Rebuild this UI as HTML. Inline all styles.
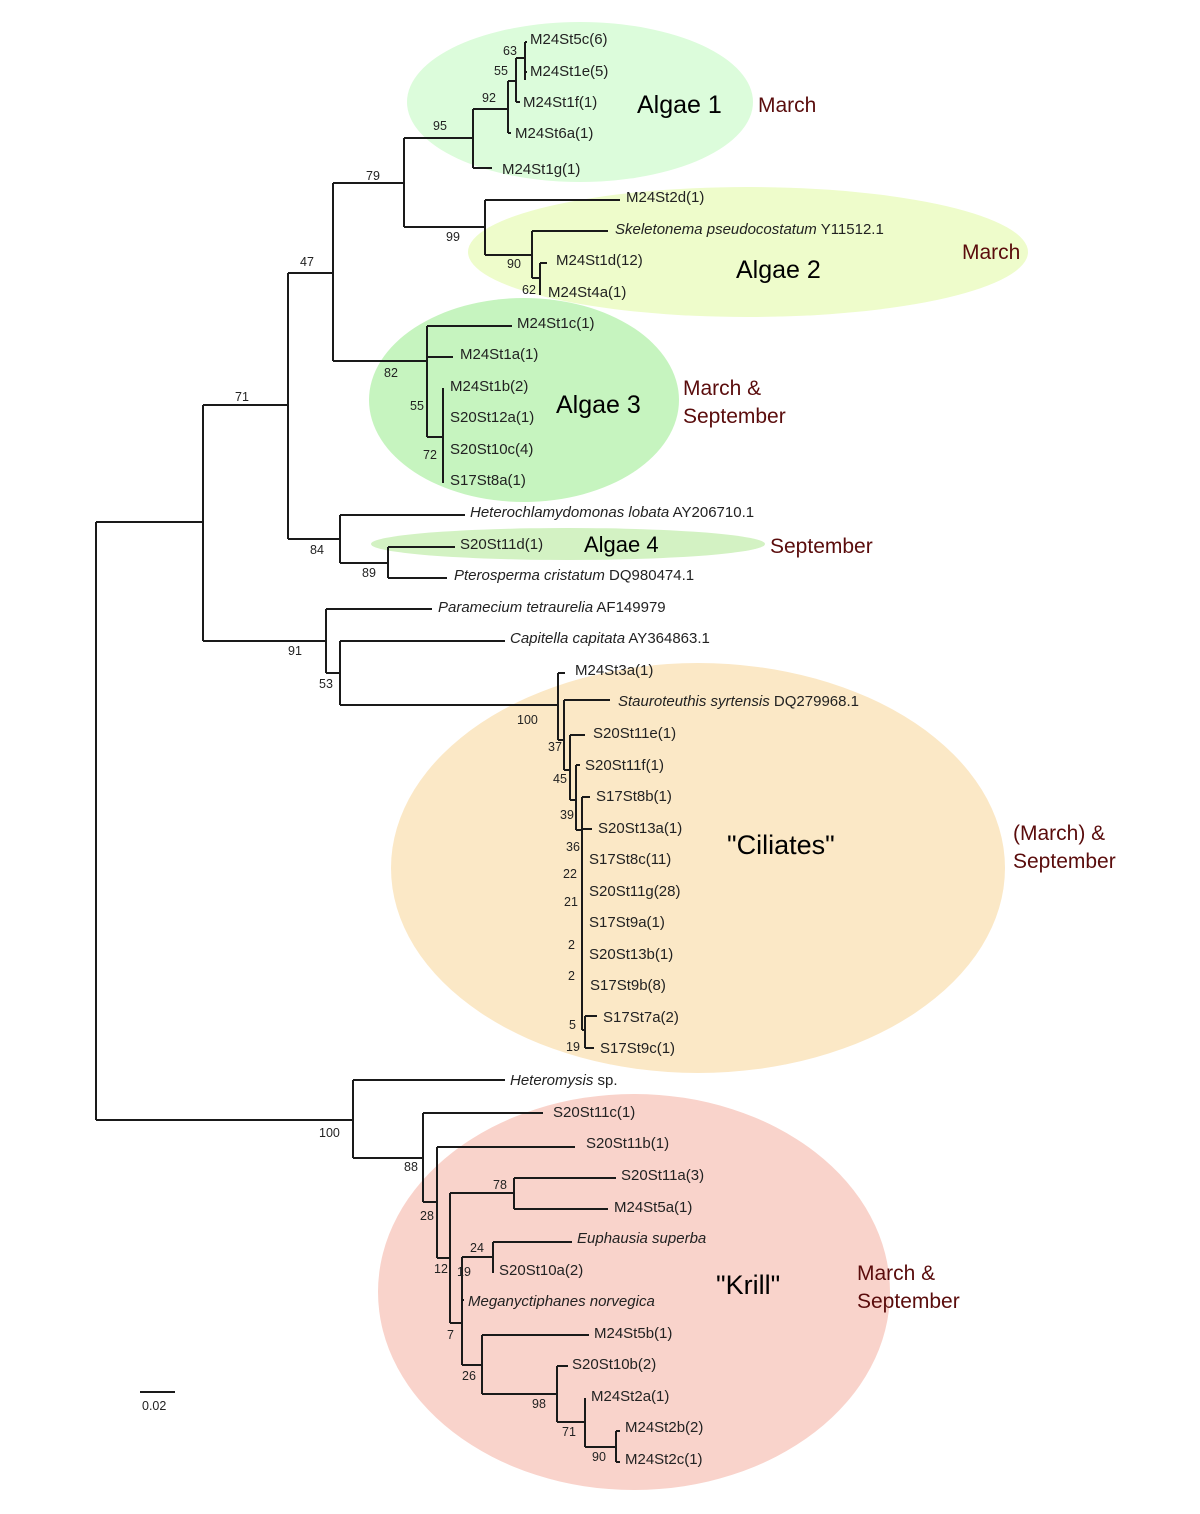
<!DOCTYPE html>
<html><head><meta charset="utf-8"><style>
html,body{margin:0;padding:0;background:#fff}
svg{display:block}
text{font-family:"Liberation Sans",sans-serif;fill:#222}
.l{font-size:15px}
.b{font-size:12.5px}
.g{font-size:25px;fill:#000}
.m{font-size:21px;fill:#5a0c0c}
</style></head><body>
<svg width="1200" height="1514" viewBox="0 0 1200 1514" xmlns="http://www.w3.org/2000/svg">
<ellipse cx="580" cy="102" rx="173" ry="80" fill="#dcfcdb"/>
<ellipse cx="748" cy="252" rx="280" ry="65" fill="#eefccb"/>
<ellipse cx="524" cy="400" rx="155" ry="102" fill="#c6f4bf"/>
<ellipse cx="568" cy="544" rx="197" ry="16" fill="#d3f2c3"/>
<ellipse cx="698" cy="868" rx="307" ry="205" fill="#fbe8c6"/>
<ellipse cx="634" cy="1292" rx="256" ry="198" fill="#f9d3cb"/>
<g stroke="#1a1a1a" stroke-width="2" fill="none">
<path d="M96 522V1120M96 522H203M96 1120H353"/>
<path d="M203 405V641M203 405H288M288 273V539M288 273H333M333 183V361M333 183H404M404 138V227"/>
<path d="M404 138H473M473 109V168M473 168H492M473 109H508M508 81V133M508 133H511M508 81H516M516 58V102M516 102H520M516 58H525M525 42V80M525 42H527M525 72H527"/>
<path d="M404 227H485M485 200V255M485 200H620M485 255H532M532 231V278M532 231H608M532 278H540M540 263V295M540 263H547"/>
<path d="M333 361H427M427 326V437M427 326H512M427 357H453M427 437H443M443 388V483"/>
<path d="M288 539H340M340 515V563M340 515H465M340 563H388M388 547V578M388 547H455M388 578H447"/>
<path d="M203 641H326M326 609V673M326 609H432M326 673H340M340 641V705M340 641H505M340 705H558"/>
<path d="M558 673V740M558 673H565M558 740H564M564 700V770M564 700H610M564 770H570M570 735V800M570 735H585M570 800H576M576 765V830M576 765H580M576 830H582M582 797V1030M582 797H590M582 829H592M582 1030H585M585 1016V1048M585 1016H597M585 1048H594"/>
<path d="M353 1080V1158M353 1080H505M353 1158H423M423 1113V1202M423 1113H543M423 1202H437M437 1147V1258M437 1147H575M437 1258H450M450 1193V1323"/>
<path d="M450 1193H514M514 1178V1209M514 1178H616M514 1209H608M450 1323H462M462 1257V1365M462 1257H493M493 1242V1273M493 1242H572M462 1300H464"/>
<path d="M462 1365H482M482 1335V1394M482 1335H589M482 1394H557M557 1366V1422M557 1366H568M557 1422H585M585 1398V1447M585 1447H616M616 1431V1462M616 1431H620M616 1462H620"/>
<path d="M140 1392H175"/>
</g>
<g class="l">
<text x="530" y="44">M24St5c(6)</text>
<text x="530" y="76">M24St1e(5)</text>
<text x="523" y="107">M24St1f(1)</text>
<text x="515" y="138">M24St6a(1)</text>
<text x="502" y="174">M24St1g(1)</text>
<text x="626" y="202">M24St2d(1)</text>
<text x="615" y="234"><tspan font-style="italic">Skeletonema pseudocostatum</tspan> Y11512.1</text>
<text x="556" y="265">M24St1d(12)</text>
<text x="548" y="297">M24St4a(1)</text>
<text x="517" y="328">M24St1c(1)</text>
<text x="460" y="359">M24St1a(1)</text>
<text x="450" y="391">M24St1b(2)</text>
<text x="450" y="422">S20St12a(1)</text>
<text x="450" y="454">S20St10c(4)</text>
<text x="450" y="485">S17St8a(1)</text>
<text x="470" y="517"><tspan font-style="italic">Heterochlamydomonas lobata</tspan> AY206710.1</text>
<text x="460" y="549">S20St11d(1)</text>
<text x="454" y="580"><tspan font-style="italic">Pterosperma cristatum</tspan> DQ980474.1</text>
<text x="438" y="612"><tspan font-style="italic">Paramecium tetraurelia</tspan> AF149979</text>
<text x="510" y="643"><tspan font-style="italic">Capitella capitata</tspan> AY364863.1</text>
<text x="575" y="675">M24St3a(1)</text>
<text x="618" y="706"><tspan font-style="italic">Stauroteuthis syrtensis</tspan> DQ279968.1</text>
<text x="593" y="738">S20St11e(1)</text>
<text x="585" y="770">S20St11f(1)</text>
<text x="596" y="801">S17St8b(1)</text>
<text x="598" y="833">S20St13a(1)</text>
<text x="589" y="864">S17St8c(11)</text>
<text x="589" y="896">S20St11g(28)</text>
<text x="589" y="927">S17St9a(1)</text>
<text x="589" y="959">S20St13b(1)</text>
<text x="590" y="990">S17St9b(8)</text>
<text x="603" y="1022">S17St7a(2)</text>
<text x="600" y="1053">S17St9c(1)</text>
<text x="510" y="1085"><tspan font-style="italic">Heteromysis</tspan> sp.</text>
<text x="553" y="1117">S20St11c(1)</text>
<text x="586" y="1148">S20St11b(1)</text>
<text x="621" y="1180">S20St11a(3)</text>
<text x="614" y="1212">M24St5a(1)</text>
<text x="577" y="1243" font-style="italic">Euphausia superba</text>
<text x="499" y="1275">S20St10a(2)</text>
<text x="468" y="1306" font-style="italic">Meganyctiphanes norvegica</text>
<text x="594" y="1338">M24St5b(1)</text>
<text x="572" y="1369">S20St10b(2)</text>
<text x="591" y="1401">M24St2a(1)</text>
<text x="625" y="1432">M24St2b(2)</text>
<text x="625" y="1464">M24St2c(1)</text>
</g>
<g class="b">
<text x="503" y="55">63</text>
<text x="494" y="75">55</text>
<text x="482" y="102">92</text>
<text x="433" y="130">95</text>
<text x="366" y="180">79</text>
<text x="446" y="241">99</text>
<text x="507" y="268">90</text>
<text x="522" y="294">62</text>
<text x="300" y="266">47</text>
<text x="384" y="377">82</text>
<text x="410" y="410">55</text>
<text x="423" y="459">72</text>
<text x="235" y="401">71</text>
<text x="310" y="554">84</text>
<text x="362" y="577">89</text>
<text x="288" y="655">91</text>
<text x="319" y="688">53</text>
<text x="517" y="724">100</text>
<text x="548" y="751">37</text>
<text x="553" y="783">45</text>
<text x="560" y="819">39</text>
<text x="566" y="851">36</text>
<text x="563" y="878">22</text>
<text x="564" y="906">21</text>
<text x="568" y="949">2</text>
<text x="568" y="980">2</text>
<text x="569" y="1029">5</text>
<text x="566" y="1051">19</text>
<text x="319" y="1137">100</text>
<text x="404" y="1171">88</text>
<text x="420" y="1220">28</text>
<text x="493" y="1189">78</text>
<text x="434" y="1273">12</text>
<text x="470" y="1252">24</text>
<text x="457" y="1276">19</text>
<text x="447" y="1339">7</text>
<text x="462" y="1380">26</text>
<text x="532" y="1408">98</text>
<text x="562" y="1436">71</text>
<text x="592" y="1461">90</text>
<text x="142" y="1410">0.02</text>
</g>
<text class="g" x="637" y="113">Algae 1</text>
<text class="g" x="736" y="278">Algae 2</text>
<text class="g" x="556" y="413">Algae 3</text>
<text class="g" x="584" y="552" style="font-size:22px">Algae 4</text>
<text class="g" x="727" y="854" style="font-size:27px">"Ciliates"</text>
<text class="g" x="716" y="1294" style="font-size:27px">"Krill"</text>
<text class="m" x="758" y="112">March</text>
<text class="m" x="962" y="259">March</text>
<text class="m" x="683" y="395">March &amp;</text>
<text class="m" x="683" y="423">September</text>
<text class="m" x="770" y="553">September</text>
<text class="m" x="1013" y="840">(March) &amp;</text>
<text class="m" x="1013" y="868">September</text>
<text class="m" x="857" y="1280">March &amp;</text>
<text class="m" x="857" y="1308">September</text>
</svg>
</body></html>
